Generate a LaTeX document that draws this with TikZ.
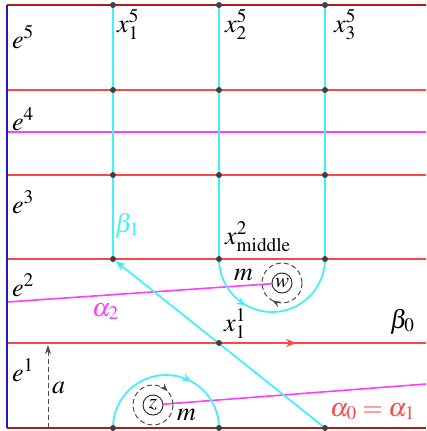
\documentclass[tikz,border=0pt]{standalone}
\usepackage{mathptmx}
\usetikzlibrary{arrows.meta,decorations.markings}
\definecolor{seamred}{RGB}{255,70,70}
\definecolor{edgered}{RGB}{180,25,25}
\definecolor{wallblue}{RGB}{30,30,190}
\definecolor{arcmagenta}{RGB}{255,60,255}
\definecolor{arccyan}{RGB}{70,240,250}
\pgfdeclarelayer{background}
\pgfsetlayers{background,main}
\tikzset{
  seam/.style={draw=seamred, line width=1.6pt},
  edge/.style={draw=edgered, line width=1.8pt},
  wall/.style={draw=wallblue, line width=1.8pt},
  alphaline/.style={draw=arcmagenta, line width=1.6pt},
  betaline/.style={draw=arccyan, line width=1.8pt},
  vertex/.style={circle, fill=black!75, inner sep=0pt, minimum size=6pt},
  puncture/.style={circle, draw=black!80, line width=1pt, inner sep=0pt, minimum size=20pt,
    font=\fontsize{21}{24}\selectfont},
  loopline/.style={draw=black!70, line width=1pt, dash pattern=on 5pt off 3pt},
  lbl/.style={font=\fontsize{26}{30}\selectfont, inner sep=0pt, anchor=base west},
  midarrow/.style={postaction={decorate}, decoration={markings,
    mark=at position #1 with {\arrow{Stealth[length=10pt,width=8pt]}}}},
  looparrow/.style={postaction={decorate}, decoration={markings,
    mark=at position #1 with {\arrow{Stealth[length=8pt,width=6pt]}}}},
}

\begin{document}
\begin{tikzpicture}[x=1pt,y=-1pt]
\useasboundingbox (0,0) rectangle (426,431);
% free ends on the wall and on the right edge
\foreach \n/\y in {5/5,4/90,3/175,2/259,1/343,0/428} {
  \coordinate (left\n) at (7,\y);
  \coordinate (right\n) at (426,\y);
}
\coordinate (a4l) at (7,132);
\coordinate (a4r) at (426,132);
\coordinate (a2l) at (7,302);
\coordinate (a0r) at (426,384);
\coordinate (afoot) at (48,428);
\coordinate (atip) at (48,345);
% vertices
\foreach \i/\x in {1/113,2/219,3/325} {
  \node[vertex] (t\i) at (\x,5) {};
  \node[vertex] (u\i) at (\x,90) {};
  \node[vertex] (v\i) at (\x,175) {};
  \node[vertex] (m\i) at (\x,259) {};
  \node[vertex] (b\i) at (\x,428) {};
}
\node[vertex] (x11) at (219,343) {};
% punctures
\node[puncture] (w) at (282,283) {$w$};
\node[puncture] (z) at (153,405) {$z$};
\begin{pgfonlayer}{background}
\draw[edge] (left5) -- (right5);
\draw[edge] (left0) -- (right0);
\foreach \n in {2,3,4} \draw[seam] (left\n) -- (right\n);
\draw[seam, midarrow=0.69] (left1) -- (right1);
\draw[alphaline] (a4l) -- (a4r);
\draw[alphaline] (a2l) -- (w);
\draw[alphaline] (z) -- (a0r);
\draw[betaline] (t1.center) -- (m1.center);
\draw[betaline, midarrow=0.46] (t2.center) -- (m2.center)
  arc[start angle=180, end angle=360, radius=53pt] -- (t3.center);
\draw[betaline, midarrow=0.66] (b1.center) arc[start angle=180, end angle=0, radius=53pt];
\draw[betaline, -{Stealth[length=10pt,width=8pt]}] (b3.center) -- (m1);
\draw[wall] (left5) -- (left0);
\end{pgfonlayer}
% loops round the punctures
\draw[loopline, looparrow=0.33] (w.center) ++(20pt,0) arc[start angle=0, end angle=-360, radius=20pt];
\draw[loopline, looparrow=0.88] (z.center) ++(20pt,0) arc[start angle=0, end angle=-360, radius=20pt];
\draw[loopline, -{Stealth[length=9pt,width=6pt]}] (afoot) -- (atip);
% labels
\node[lbl] at (12,48) {$e^5$};
\node[lbl] at (12,130) {$e^4$};
\node[lbl] at (12,213) {$e^3$};
\node[lbl] at (12,296) {$e^2$};
\node[lbl] at (12,381) {$e^1$};
\node[lbl] at (117,32) {$x_1^5$};
\node[lbl] at (225,32) {$x_2^5$};
\node[lbl] at (334,32) {$x_3^5$};
\node[lbl, text=arccyan] at (115,232) {$\beta_1$};
\node[lbl] at (225,244) {$x^2_{\mathrm{middle}}$};
\node[lbl] at (234,280) {$m$};
\node[lbl, text=arcmagenta] at (92,316) {$\alpha_2$};
\node[lbl] at (224,331) {$x_1^1$};
\node[lbl] at (390,328) {$\beta_0$};
\node[lbl] at (52,393) {$a$};
\node[lbl] at (177,420) {$m$};
\node[lbl, text=seamred] at (330,416) {$\alpha_0=\alpha_1$};
\end{tikzpicture}
\end{document}
